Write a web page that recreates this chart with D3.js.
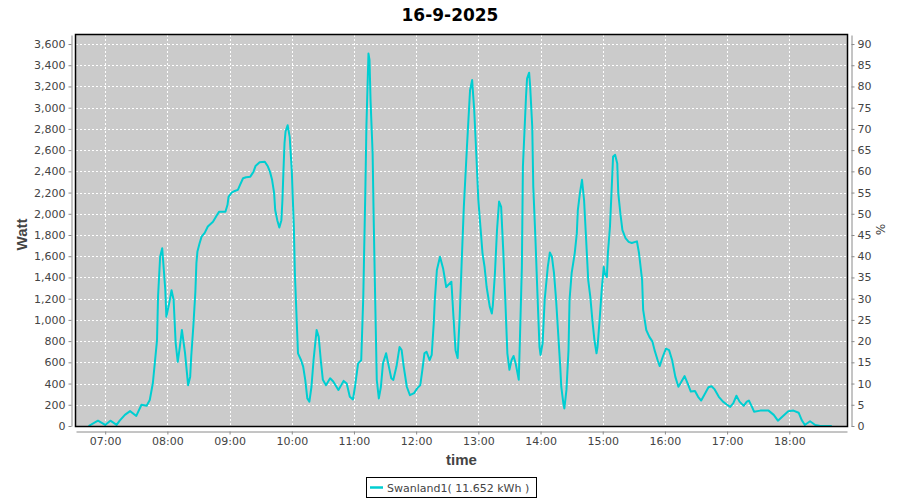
<!DOCTYPE html>
<html>
<head>
<meta charset="utf-8">
<script src="https://cdn.jsdelivr.net/npm/d3@7"></script>
<style>
  html, body { margin: 0; padding: 0; background: #ffffff; }
  svg { display: block; }
  text { font-family: "DejaVu Sans", "Liberation Sans", sans-serif; }
</style>
</head>
<body>
<svg id="chart" width="900" height="500"></svg>
<script>
// ---- data ----
const chartTitle = "16-9-2025";
const seriesName = "Swanland1( 11.652 kWh )";
const times = [
  "06:44","06:53","07:00","07:05","07:11","07:14","07:19","07:24","07:30","07:35",
  "07:40","07:43","07:46","07:50","07:51","07:53","07:55","07:58","07:59","08:02",
  "08:04","08:06","08:08","08:10","08:12","08:14","08:17","08:20","08:22","08:23",
  "08:25","08:27","08:28","08:29","08:31","08:33","08:36","08:39","08:44","08:48",
  "08:50","08:56","08:58","08:59","09:02","09:05","09:08","09:10","09:13","09:16",
  "09:20","09:23","09:25","09:29","09:34","09:37","09:39","09:41","09:43","09:44",
  "09:46","09:48","09:50","09:51","09:52","09:53","09:54","09:56","09:58","10:00",
  "10:02","10:03","10:05","10:06","10:09","10:11","10:13","10:15","10:17","10:19",
  "10:21","10:24","10:26","10:28","10:30","10:33","10:37","10:40","10:45","10:50",
  "10:53","10:56","10:59","11:01","11:04","11:07","11:09","11:11","11:12","11:14",
  "11:15","11:16","11:18","11:19","11:20","11:21","11:22","11:24","11:26","11:28",
  "11:31","11:33","11:36","11:38","11:41","11:44","11:46","11:48","11:51","11:54",
  "11:58","12:01","12:04","12:06","12:08","12:10","12:13","12:15","12:17","12:18",
  "12:20","12:23","12:26","12:29","12:34","12:36","12:38","12:40","12:42","12:44",
  "12:46","12:49","12:52","12:54","12:56","12:58","13:00","13:02","13:04","13:06",
  "13:08","13:11","13:13","13:14","13:16","13:18","13:20","13:22","13:24","13:26",
  "13:28","13:30","13:32","13:34","13:36","13:39","13:40","13:42","13:43","13:46",
  "13:47","13:49","13:50","13:52","13:53","13:55","13:57","13:59","14:00","14:02",
  "14:04","14:07","14:09","14:11","14:13","14:15","14:17","14:19","14:20","14:22",
  "14:23","14:25","14:27","14:28","14:30","14:32","14:33","14:35","14:36","14:38",
  "14:40","14:42","14:44","14:46","14:48","14:50","14:52","14:54","14:55","14:57",
  "14:59","15:01","15:02","15:04","15:05","15:07","15:09","15:10","15:12","15:14",
  "15:15","15:17","15:19","15:22","15:25","15:28","15:33","15:35","15:38","15:39",
  "15:42","15:45","15:48","15:50","15:53","15:55","15:58","16:01","16:04","16:07",
  "16:10","16:13","16:16","16:19","16:22","16:25","16:29","16:32","16:35","16:39",
  "16:42","16:45","16:48","16:52","16:56","17:00","17:03","17:06","17:09","17:12",
  "17:16","17:19","17:21","17:24","17:26","17:32","17:40","17:45","17:49","17:54",
  "17:59","18:04","18:09","18:12","18:15","18:20","18:25","18:30","18:41"
];
const watts = [
  0,50,10,50,10,50,105,140,95,200,
  190,245,405,810,1220,1595,1675,1280,1030,1170,
  1280,1190,780,605,745,905,690,385,465,655,
  935,1265,1535,1645,1720,1785,1820,1880,1925,1990,
  2020,2020,2085,2160,2200,2215,2225,2270,2335,2345,
  2350,2395,2450,2485,2490,2445,2395,2320,2195,2035,
  1940,1870,1940,2130,2410,2665,2775,2835,2725,2410,
  1880,1440,935,685,620,560,435,260,230,370,
  620,905,840,620,435,385,450,420,340,425,
  400,275,250,370,590,620,1220,2225,2820,3510,
  3450,3070,2570,1970,1440,935,435,260,370,590,
  685,590,450,435,560,745,715,560,370,290,
  310,355,385,530,685,700,620,670,970,1190,
  1470,1595,1485,1310,1360,1030,715,640,1030,1565,
  2065,2630,3165,3260,2980,2570,2130,1880,1630,1500,
  1310,1125,1060,1140,1440,1845,2115,2065,1660,1190,
  685,530,620,660,590,435,780,1500,2445,3105,
  3275,3330,3200,2820,2255,1785,1250,745,670,780,
  1190,1500,1635,1595,1440,1190,875,560,370,215,
  165,340,715,1190,1440,1565,1630,1815,2035,2195,
  2320,2130,1755,1375,1220,1000,810,685,745,1000,
  1280,1500,1440,1405,1630,1880,2320,2540,2555,2475,
  2195,2005,1845,1770,1735,1725,1740,1630,1375,1095,
  905,840,795,715,620,565,655,730,715,620,
  465,370,420,470,400,325,330,275,240,310,
  365,375,345,275,230,200,180,215,285,230,
  190,230,240,180,135,145,145,105,50,95,
  140,145,125,55,10,45,10,0,0
];
const xTickLabels = ["07:00","08:00","09:00","10:00","11:00","12:00","13:00","14:00","15:00","16:00","17:00","18:00"];
const wattTicks = [0,200,400,600,800,1000,1200,1400,1600,1800,2000,2200,2400,2600,2800,3000,3200,3400,3600];
const pctTicks = [0,5,10,15,20,25,30,35,40,45,50,55,60,65,70,75,80,85,90];
const xLabel = "time";
const yLabel = "Watt";
const y2Label = "%";

// ---- layout ----
const W = 900, H = 500;
const plot = {left: 76, right: 847, top: 35, bottom: 426};
const lineColor = "#00ced1";
const tickColor = "#444444";
const axisColor = "#8a8a8a";
const labelFont = '"Liberation Sans", Arial, sans-serif';

const svg = d3.select("#chart");
svg.append("rect").attr("width", W).attr("height", H).attr("fill", "#ffffff");

const parseT = d3.timeParse("%Y-%m-%d %H:%M:%S");
const dayStr = "2025-09-16 ";
const toDate = s => parseT(dayStr + (s.length === 5 ? s + ":00" : s));

const x = d3.scaleTime()
  .domain([toDate("06:31:50"), toDate("18:55:40")])
  .range([plot.left, plot.right]);
const y = d3.scaleLinear().domain([0, 3685]).range([plot.bottom, plot.top]);
const y2 = d3.scaleLinear().domain([0, 3685 / 40]).range([plot.bottom, plot.top]);

// plot background
svg.append("rect")
  .attr("x", plot.left).attr("y", plot.top)
  .attr("width", plot.right - plot.left).attr("height", plot.bottom - plot.top)
  .attr("fill", "#cbcbcb");

// gridlines
const grid = svg.append("g").attr("stroke", "#ffffff").attr("stroke-width", 1)
  .attr("stroke-dasharray", "2,2").attr("shape-rendering", "crispEdges");
wattTicks.forEach(v => {
  grid.append("line")
    .attr("x1", plot.left).attr("x2", plot.right)
    .attr("y1", Math.round(y(v)) + 0.5).attr("y2", Math.round(y(v)) + 0.5);
});
xTickLabels.forEach(t => {
  const xx = Math.round(x(toDate(t))) + 0.5;
  grid.append("line").attr("x1", xx).attr("x2", xx)
    .attr("y1", plot.top).attr("y2", plot.bottom);
});

// clip
svg.append("clipPath").attr("id", "clip").append("rect")
  .attr("x", plot.left).attr("y", plot.top)
  .attr("width", plot.right - plot.left).attr("height", plot.bottom - plot.top);

const data = times.map((t, i) => ({t: toDate(t), v: watts[i]}));
const line = d3.line().x(d => x(d.t)).y(d => y(d.v));
svg.append("path").datum(data)
  .attr("clip-path", "url(#clip)")
  .attr("fill", "none").attr("stroke", lineColor).attr("stroke-width", 2)
  .attr("stroke-linejoin", "round")
  .attr("d", line);

// plot outline
svg.append("rect")
  .attr("x", plot.left - 0.5).attr("y", plot.top - 0.5)
  .attr("width", plot.right - plot.left + 1).attr("height", plot.bottom - plot.top + 1)
  .attr("fill", "none").attr("stroke", "#000000").attr("stroke-width", 1.5);

// axes
function styleAxis(g) {
  g.selectAll(".domain").attr("stroke", axisColor);
  g.selectAll(".tick line").attr("stroke", axisColor);
  g.selectAll(".tick text").attr("fill", tickColor)
    .style("font-family", '"DejaVu Sans", sans-serif').style("font-size", "11px");
}

const gLeft = svg.append("g").attr("transform", `translate(${plot.left - 4.5},0)`)
  .call(d3.axisLeft(y).tickValues(wattTicks).tickSizeInner(3).tickSizeOuter(0)
    .tickPadding(3).tickFormat(d3.format(",")));
styleAxis(gLeft);

const gRight = svg.append("g").attr("transform", `translate(${plot.right + 4.5},0)`)
  .call(d3.axisRight(y2).tickValues(pctTicks).tickSizeInner(3).tickSizeOuter(0)
    .tickPadding(3).tickFormat(d3.format("d")));
styleAxis(gRight);

const gBottom = svg.append("g").attr("transform", `translate(0,${plot.bottom + 5.5})`)
  .call(d3.axisBottom(x).tickValues(xTickLabels.map(toDate)).tickSizeInner(3).tickSizeOuter(0)
    .tickPadding(3).tickFormat(d3.timeFormat("%H:%M")));
styleAxis(gBottom);

// axis labels
svg.append("text").attr("x", (plot.left + plot.right) / 2).attr("y", 465)
  .attr("text-anchor", "middle").attr("font-weight", "bold").attr("font-size", 15)
  .style("font-family", labelFont)
  .attr("fill", "#444444").text(xLabel);
svg.append("text")
  .attr("transform", `translate(27,${(plot.top + plot.bottom) / 2 + 4}) rotate(-90)`)
  .attr("text-anchor", "middle").attr("font-weight", "bold").attr("font-size", 15)
  .style("font-family", labelFont)
  .attr("fill", "#444444").text(yLabel);
svg.append("text")
  .attr("transform", `translate(876,${(plot.top + plot.bottom) / 2 - 1}) rotate(90)`)
  .attr("text-anchor", "middle").attr("font-size", 12)
  .attr("fill", "#444444").text(y2Label);

// title
svg.append("text").attr("x", W / 2).attr("y", 21)
  .attr("text-anchor", "middle").attr("font-weight", "bold").attr("font-size", 17)
  .attr("fill", "#000000").text(chartTitle);

// legend
const lg = svg.append("g");
lg.append("rect").attr("x", 366.5).attr("y", 477.5).attr("width", 170).attr("height", 20)
  .attr("fill", "#ffffff").attr("stroke", "#000000").attr("stroke-width", 1);
lg.append("line").attr("x1", 370).attr("x2", 383).attr("y1", 487.5).attr("y2", 487.5)
  .attr("stroke", lineColor).attr("stroke-width", 2.5);
lg.append("text").attr("x", 387).attr("y", 491.5).attr("font-size", 11)
  .attr("fill", "#444444").text(seriesName);
</script>
</body>
</html>
